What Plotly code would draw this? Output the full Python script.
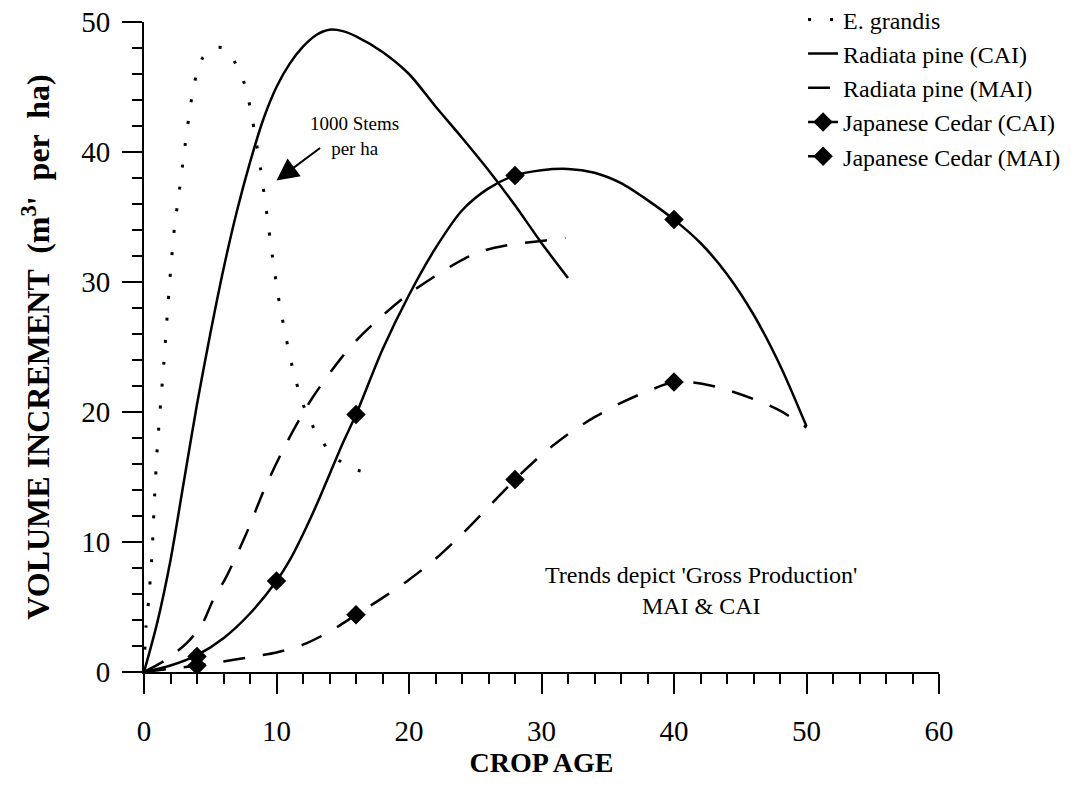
import plotly.graph_objects as go

FONT = "Liberation Serif"

# ---------------- data ----------------
age_ticks = [0, 10, 20, 30, 40, 50, 60]
inc_ticks = [0, 10, 20, 30, 40, 50]

# E. grandis (dotted)
eg_x = [0, 0.15, 0.35, 0.6, 0.8, 1.0, 1.25, 1.5, 1.75, 2.0, 2.3, 2.65, 3.0, 3.4, 3.8,
        4.4, 5.2, 6.0, 6.8, 7.5, 8.0, 8.5, 8.9, 9.3, 9.7, 10.15, 10.7, 11.3, 12.0, 12.9,
        13.9, 15.2, 16.8]
eg_y = [0, 3.5, 5.5, 9.0, 13.5, 17.2, 20.6, 23.8, 27.4, 30.8, 34.2, 36.9, 39.7, 42.8, 45.3,
        47.2, 48.0, 48.0, 47.0, 45.5, 43.5, 40.6, 38.0, 35.0, 31.9, 28.8, 25.8, 23.0, 20.6, 18.6,
        17.1, 15.9, 15.3]

# Radiata pine CAI (solid)
rp_cai_x = [0, 1, 2, 3, 4, 5, 6, 7, 8, 9, 10, 11, 12, 13, 14, 15, 16, 18, 20, 22, 24,
            26, 28, 30, 32]
rp_cai_y = [0, 3.8, 8.6, 14.6, 20.6, 26.0, 31.0, 35.4, 39.2, 42.5, 45.0, 46.8, 48.1, 49.0,
            49.4, 49.3, 48.9, 47.7, 46.0, 43.5, 41.1, 38.6, 35.9, 33.0, 30.3]

# Radiata pine MAI (dashed)
rp_mai_x = [0, 1.6, 3.2, 4.35, 5.2, 6.2, 7.7, 9.1, 10.7, 12.65, 15.0, 16.4, 18.1, 20.0,
            22.5, 24.2, 25.6, 27.3, 28.6, 30.3, 31.8]
rp_mai_y = [0, 0.9, 2.2, 3.6, 5.5, 7.3, 10.6, 14.1, 17.5, 21.0, 24.3, 25.9, 27.5, 29.1,
            30.8, 31.8, 32.4, 32.8, 33.0, 33.2, 33.4]

# Japanese Cedar CAI (solid, diamonds)
jc_cai_x = [0, 2, 4, 6, 8, 10, 11, 12, 13, 14, 15, 16, 18, 20, 22, 24, 26, 28, 30, 32,
            34, 36, 38, 40, 42, 44, 46, 48, 50]
jc_cai_y = [0, 0.5, 1.3, 2.6, 4.5, 7.0, 8.6, 10.6, 12.8, 15.2, 17.6, 19.8, 24.8, 29.0,
            32.6, 35.5, 37.2, 38.2, 38.6, 38.7, 38.4, 37.6, 36.3, 34.8, 33.0, 30.6,
            27.5, 23.6, 18.9]
jc_cai_mx = [4, 10, 16, 28, 40]
jc_cai_my = [1.2, 7.0, 19.8, 38.2, 34.8]

# Japanese Cedar MAI (dashed, diamonds)
jc_mai_x = [0, 2, 4, 6, 8, 10, 12, 14, 16, 18, 20, 22, 24, 26, 28, 30, 32, 34, 36, 38,
            40, 42, 44, 46, 48, 50]
jc_mai_y = [0, 0.25, 0.5, 0.8, 1.15, 1.5, 2.1, 3.1, 4.4, 5.7, 7.1, 8.7, 10.6, 12.7,
            14.8, 16.7, 18.3, 19.6, 20.7, 21.6, 22.3, 22.2, 21.7, 21.0, 20.1, 18.8]
jc_mai_mx = [4, 16, 28, 40]
jc_mai_my = [0.5, 4.4, 14.8, 22.3]

series_names = ["E. grandis", "Radiata pine (CAI)", "Radiata pine (MAI)",
                "Japanese Cedar (CAI)", "Japanese Cedar (MAI)"]


def isolated(xs, ys):
    """Marker points separated by gaps, so no segments join them."""
    gx, gy = [], []
    for a, b in zip(xs, ys):
        gx += [a, None]
        gy += [b, None]
    return gx, gy


LW = 2.5
DASH = "22px,18px"
DOT = "3px,19px"

fig = go.Figure()

fig.add_trace(go.Scatter(
    x=eg_x, y=eg_y, mode="lines", name=series_names[0], legendgroup="g0",
    line=dict(color="black", width=3, dash=DOT, shape="spline", smoothing=0.6)))

fig.add_trace(go.Scatter(
    x=rp_cai_x, y=rp_cai_y, mode="lines", name=series_names[1], legendgroup="g1",
    line=dict(color="black", width=LW, shape="spline", smoothing=0.8)))

fig.add_trace(go.Scatter(
    x=rp_mai_x, y=rp_mai_y, mode="lines", name=series_names[2], legendgroup="g2",
    line=dict(color="black", width=LW, dash=DASH, shape="spline", smoothing=0.8)))

fig.add_trace(go.Scatter(
    x=jc_cai_x, y=jc_cai_y, mode="lines", showlegend=False, legendgroup="g3",
    hoverinfo="skip",
    line=dict(color="black", width=LW, shape="spline", smoothing=0.8)))
mx, my = isolated(jc_cai_mx, jc_cai_my)
fig.add_trace(go.Scatter(
    x=mx, y=my, mode="lines+markers", name=series_names[3], legendgroup="g3",
    connectgaps=False,
    line=dict(color="black", width=LW),
    marker=dict(symbol="diamond", size=15, color="black")))

fig.add_trace(go.Scatter(
    x=jc_mai_x, y=jc_mai_y, mode="lines", showlegend=False, legendgroup="g4",
    hoverinfo="skip",
    line=dict(color="black", width=LW, dash=DASH, shape="spline", smoothing=0.8)))
mx, my = isolated(jc_mai_mx, jc_mai_my)
fig.add_trace(go.Scatter(
    x=mx, y=my, mode="lines+markers", name=series_names[4], legendgroup="g4",
    connectgaps=False,
    line=dict(color="black", width=LW, dash=DASH),
    marker=dict(symbol="diamond", size=15, color="black")))

axis_common = dict(
    showline=True, linecolor="black", linewidth=2,
    ticks="outside", ticklen=20, tickwidth=2, tickcolor="black",
    showgrid=False, zeroline=False, automargin=False,
    ticklabeloverflow="allow",
    tickfont=dict(family=FONT, size=29, color="black"),
)

fig.update_xaxes(
    range=[0, 60], tickvals=age_ticks, ticklabelstandoff=12,
    minor=dict(ticks="outside", ticklen=10, tickwidth=1.5, tickcolor="black", dtick=2),
    title=dict(text="CROP AGE", standoff=4,
               font=dict(family=FONT, size=28, color="black", weight="bold")),
    **axis_common)

fig.update_yaxes(
    range=[0, 50], tickvals=inc_ticks, ticklabelstandoff=6,
    minor=dict(ticks="outside", ticklen=10, tickwidth=1.5, tickcolor="black", dtick=2),
    title=dict(text="VOLUME INCREMENT  (m<sup>3</sup>'  per  ha)", standoff=22,
               font=dict(family=FONT, size=32, color="black", weight="bold")),
    **axis_common)

fig.add_annotation(x=15.9, y=41.2, xref="x", yref="y", showarrow=False,
                   text="1000 Stems<br>per ha",
                   font=dict(family=FONT, size=19, color="black"))
fig.add_annotation(x=10.0, y=37.8, ax=13.4, ay=40.4, xref="x", yref="y",
                   axref="x", ayref="y", text="", showarrow=True,
                   arrowhead=2, arrowsize=2.2, arrowwidth=2, arrowcolor="black")
fig.add_annotation(x=42.0, y=6.3, xref="x", yref="y", showarrow=False,
                   text="Trends depict 'Gross Production'<br>MAI & CAI",
                   align="center",
                   font=dict(family=FONT, size=24, color="black"))

# the page body adds an 8 px offset; margins are shifted to keep the plot area in place
fig.update_layout(
    width=1079, height=796,
    margin=dict(l=136, r=148, t=14, b=132, autoexpand=False),
    paper_bgcolor="white", plot_bgcolor="white",
    font=dict(family=FONT, color="black"),
    legend=dict(x=0.829, y=1.038, xanchor="left", yanchor="top",
                bgcolor="rgba(0,0,0,0)", tracegroupgap=0,
                font=dict(family=FONT, size=24, color="black")),
)

fig.write_html("out.html")
